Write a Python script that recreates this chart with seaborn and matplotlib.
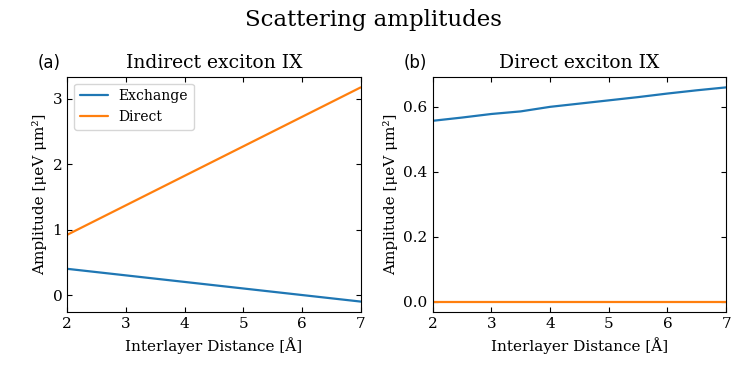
import numpy as np
import pandas as pd
import matplotlib
matplotlib.use("Agg")
import matplotlib.pyplot as plt
import seaborn as sns

# Data
dist = [2.0, 2.5, 3.0, 3.5, 4.0, 4.5, 5.0, 5.5, 6.0, 6.5, 7.0]
ix_exchange = [0.40, 0.35, 0.30, 0.25, 0.20, 0.15, 0.10, 0.05, 0.00, -0.05, -0.10]
ix_direct = [0.92, 1.145, 1.37, 1.595, 1.82, 2.045, 2.27, 2.495, 2.72, 2.945, 3.17]
dx_exchange = [0.557, 0.567, 0.578, 0.586, 0.600, 0.610, 0.620, 0.630, 0.641, 0.651, 0.660]
dx_direct = [0.0, 0.0, 0.0, 0.0, 0.0, 0.0, 0.0, 0.0, 0.0, 0.0, 0.0]

sns.set_style("ticks")
plt.rcParams['font.family'] = ['DejaVu Serif']
plt.rcParams['xtick.direction'] = 'in'
plt.rcParams['ytick.direction'] = 'in'
plt.rcParams['xtick.top'] = True
plt.rcParams['ytick.right'] = True
# plain black text and frame
for key in ['text.color', 'axes.labelcolor', 'xtick.color', 'ytick.color', 'axes.edgecolor']:
    plt.rcParams[key] = 'black'

df_a = pd.DataFrame({'d': dist * 2, 'amp': ix_exchange + ix_direct,
                     'kind': ['Exchange'] * len(dist) + ['Direct'] * len(dist)})
df_b = pd.DataFrame({'d': dist * 2, 'amp': dx_exchange + dx_direct,
                     'kind': ['Exchange'] * len(dist) + ['Direct'] * len(dist)})

colors = {'Exchange': '#1f77b4', 'Direct': '#ff7f0e'}

fig, axes = plt.subplots(1, 2, figsize=(7.47, 3.74), dpi=100)
fig.subplots_adjust(left=0.09, right=0.972, top=0.795, bottom=0.165, wspace=0.245)

sns.lineplot(data=df_a, x='d', y='amp', hue='kind', palette=colors, ax=axes[0], linewidth=1.6)
sns.lineplot(data=df_b, x='d', y='amp', hue='kind', palette=colors, ax=axes[1], linewidth=1.6,
             legend=False)

titles = ['Indirect exciton IX', 'Direct exciton IX']
tags = ['(a)', '(b)']
for ax, t, tag in zip(axes, titles, tags):
    ax.set_xlim(2, 7)
    ax.set_xticks([2, 3, 4, 5, 6, 7])
    ax.set_title(t, fontsize=13.5)
    ax.set_xlabel('Interlayer Distance [Å]', fontsize=11)
    ax.set_ylabel('Amplitude [μeV μm²]', fontsize=11)
    ax.tick_params(labelsize=11)
    ax.text(-0.1, 1.02, tag, transform=ax.transAxes, fontsize=12,
            family='DejaVu Sans', ha='left', va='bottom')

axes[0].set_yticks([0, 1, 2, 3])
axes[1].set_yticks([0.0, 0.2, 0.4, 0.6])
axes[1].set_yticklabels(['0.0', '0.2', '0.4', '0.6'])

leg = axes[0].legend(loc='upper left', fontsize=10, frameon=True)
leg.set_title(None)

fig.suptitle('Scattering amplitudes', fontsize=16.5, y=0.975)

plt.savefig('out.png', dpi=100)
